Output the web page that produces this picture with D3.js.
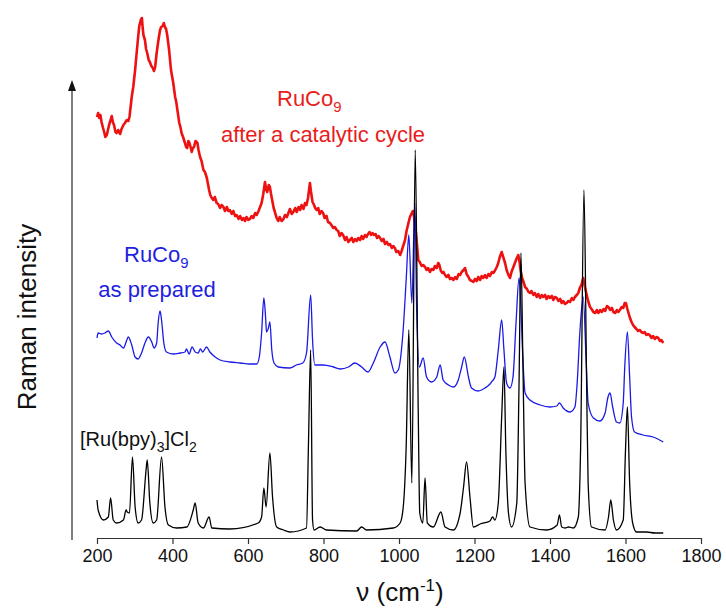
<!DOCTYPE html>
<html>
<head>
<meta charset="utf-8">
<script src="https://cdnjs.cloudflare.com/ajax/libs/d3/7.8.5/d3.min.js"></script>
<style>
  body { margin: 0; background: #fff; }
  svg { display: block; }
  text { font-family: "Liberation Sans", Arial, sans-serif; }
</style>
</head>
<body>
<div id="chart"></div>
<script>
// Raman shift (cm-1) and intensity (a.u.), one pair of arrays per spectrum
var bpyShift = [200,203,217,230,236,243,252,270,277,280,286,294,301,309,318,330,333,340,349,358,371,380,389,411,438,455,460,468,482,497,504,552,627,636,642,648,658,665,676,694,711,755,760,766,771,775,791,808,888,901,914,985,1003,1011,1019,1026,1034,1043,1051,1055,1063,1069,1075,1091,1111,1122,1144,1162,1171,1179,1188,1197,1215,1241,1248,1254,1263,1272,1278,1283,1290,1298,1312,1318,1323,1328,1334,1347,1391,1419,1425,1431,1440,1449,1462,1475,1481,1490,1497,1501,1510,1546,1555,1561,1568,1576,1594,1600,1605,1611,1619,1629,1656,1678,1700];
var bpyInt   = [38,28,18,21,40,18,15,18,28,26,25,81,31,15,18,68,78,35,15,18,81,31,13,10,11,28,35,15,10,21,10,9,15,21,50,31,85,41,11,8,6,10,91,188,18,8,11,8,7,11,8,10,15,30,91,208,55,388,125,25,15,60,15,11,26,11,8,25,51,76,41,11,14,17,21,18,35,121,171,88,25,11,35,155,285,181,55,11,8,13,23,11,10,11,10,21,88,348,155,55,11,8,21,38,18,8,18,88,131,55,15,6,6,5,5];

var prepShift = [200,203,212,221,230,239,252,261,270,279,283,292,301,309,318,327,336,345,351,358,362,367,371,377,384,402,420,433,437,444,452,460,468,474,480,490,499,513,526,552,579,605,623,630,636,642,647,649,654,658,663,669,680,711,728,745,755,766,771,777,799,826,844,866,883,901,918,932,950,963,976,989,998,1011,1019,1026,1034,1042,1047,1054,1064,1073,1086,1100,1109,1117,1131,1144,1157,1166,1173,1184,1192,1210,1228,1241,1245,1254,1263,1272,1278,1285,1294,1302,1310,1318,1322,1328,1334,1347,1374,1400,1418,1425,1435,1453,1466,1472,1479,1488,1496,1501,1515,1532,1546,1553,1559,1566,1576,1585,1594,1598,1605,1611,1616,1624,1646,1673,1700];
var prepInt   = [200,205,204,205,207,201,195,193,190,198,201,193,181,179,185,195,201,196,190,195,215,227,218,195,186,184,185,186,189,184,191,186,185,189,186,191,186,181,178,176,175,174,174,181,205,240,218,206,210,216,188,175,171,170,173,175,185,243,198,173,173,171,169,171,175,171,166,175,191,196,181,165,168,208,258,303,235,335,225,171,180,161,156,161,173,158,153,151,158,171,181,161,150,147,150,154,156,161,188,218,188,155,150,161,215,260,238,181,145,138,133,131,132,135,130,126,131,155,205,241,175,135,120,117,125,140,145,131,116,115,135,171,206,161,121,106,103,101,96];

var cycShift = [
  200,203,206,209,212,216,219,222,226,229,232,236,239,242,245,249,252,256,261,265,
  270,274,279,283,286,289,292,296,301,305,309,312,316,319,321,323,327,330,333,337,
  340,344,348,351,354,358,362,367,370,374,377,380,383,386,391,396,402,407,410,413,
  418,421,424,428,433,436,439,442,445,448,451,454,457,461,466,469,473,477,482,486,
  491,494,497,500,504,508,512,517,521,526,530,535,539,544,548,552,557,561,566,570,
  575,579,584,588,592,596,601,605,610,614,619,623,628,632,636,640,645,648,651,655,
  658,661,665,668,672,676,680,684,689,694,698,703,707,711,716,720,725,729,734,738,
  742,747,751,755,759,764,767,771,775,778,782,786,790,795,799,803,808,812,817,821,
  826,830,835,839,843,848,852,857,861,866,870,875,879,884,888,892,897,901,905,910,
  914,918,922,926,930,934,938,942,946,950,954,959,963,968,972,976,981,985,989,993,
  998,1003,1007,1011,1016,1020,1025,1029,1034,1037,1040,1045,1048,1051,1055,1060,1064,1069,1073,1077,
  1082,1086,1091,1095,1100,1104,1107,1111,1115,1118,1122,1126,1131,1135,1140,1144,1149,1153,1158,1162,
  1166,1171,1175,1179,1184,1188,1193,1197,1201,1206,1210,1215,1219,1223,1228,1232,1237,1241,1246,1250,
  1255,1259,1263,1267,1272,1276,1281,1285,1290,1294,1298,1303,1307,1311,1316,1319,1322,1326,1330,1334,
  1339,1343,1347,1351,1356,1360,1365,1369,1374,1378,1382,1387,1391,1396,1400,1405,1409,1413,1418,1422,
  1427,1431,1435,1440,1444,1449,1453,1458,1462,1466,1471,1475,1479,1484,1488,1492,1496,1501,1506,1510,
  1515,1520,1524,1528,1533,1537,1542,1546,1551,1555,1559,1564,1568,1573,1577,1581,1585,1590,1594,1598,
  1601,1605,1608,1611,1616,1620,1624,1629,1633,1638,1642,1647,1651,1655,1660,1664,1669,1673,1678,1682,
  1687,1691,1695,1700];
var cycInt = [
  421,425,420,423,416,410,406,401,403,408,413,418,422,416,413,406,405,408,404,409,
  413,415,418,417,421,431,441,451,468,485,501,512,518,520,510,503,498,489,485,478,
  476,472,470,467,471,485,496,508,511,512,515,511,509,503,488,468,455,441,436,428,
  415,411,405,401,395,391,390,397,395,391,386,390,391,397,395,388,381,377,368,366,
  360,354,348,343,340,338,341,335,334,330,333,331,327,331,327,328,324,327,322,323,
  319,322,318,320,317,321,318,319,322,320,325,323,327,331,335,343,356,349,346,353,
  351,344,336,330,325,320,317,321,317,319,323,321,325,329,324,326,330,326,331,328,
  333,329,335,333,340,355,346,336,333,330,328,330,324,327,325,320,322,316,315,313,
  310,311,308,307,302,305,303,298,301,296,298,300,296,299,297,300,298,302,299,303,
  301,304,306,303,305,303,304,300,302,300,297,299,294,296,293,294,290,292,290,286,
  287,283,287,292,298,307,315,321,325,327,321,305,292,278,276,272,273,271,268,270,
  266,269,268,272,270,275,273,267,265,266,263,261,263,259,260,258,261,259,264,263,
  266,268,270,264,261,258,257,256,259,257,261,258,262,260,263,260,264,262,266,265,
  268,271,275,281,286,281,275,268,263,260,266,271,275,279,283,277,268,260,256,251,
  249,246,245,247,243,245,241,244,240,243,241,243,239,242,240,242,238,241,240,237,
  239,235,237,234,235,237,236,240,238,241,243,245,250,254,260,252,245,237,231,229,
  226,225,228,225,228,226,229,227,232,231,228,230,226,225,228,226,228,231,230,235,
  235,229,225,221,216,213,211,209,207,208,206,205,206,203,204,203,200,202,199,201,
  200,197,198,195];

var xTicks = [200,400,600,800,1000,1200,1400,1600,1800];

var width = 726, height = 610;

var svg = d3.select('#chart').append('svg')
    .attr('width', width)
    .attr('height', height);

var x = d3.scaleLinear().domain([200, 1800]).range([97, 701]);
var y = d3.scaleLinear().domain([0, 460]).range([538, 78]);

// x axis
var xAxis = svg.append('g')
    .attr('transform', 'translate(0,' + y(0) + ')')
    .call(d3.axisBottom(x).tickValues(xTicks).tickFormat(d3.format('d'))
      .tickSize(6).tickSizeOuter(0).tickPadding(5));
xAxis.select('.domain').attr('stroke', '#333').attr('stroke-width', 1.2);
xAxis.selectAll('.tick line').attr('stroke', '#333').attr('stroke-width', 1.2);
xAxis.selectAll('.tick text')
    .attr('fill', '#111')
    .style('font-size', '18px')
    .style('font-family', '"Liberation Sans", Arial, sans-serif');

// y axis: plain line with an arrow head, no ticks
svg.append('line')
    .attr('x1', 72).attr('x2', 72)
    .attr('y1', y(0) + 2).attr('y2', y(450))
    .attr('stroke', '#555')
    .attr('stroke-width', 1.5);
svg.append('path')
    .attr('d', 'M72,' + (y(458)) + 'L68,' + (y(447)) + 'L76,' + (y(447)) + 'Z')
    .attr('fill', '#111');

function series(shift, inten) {
  return shift.map(function(d, i) { return [d, inten[i]]; });
}

var line = d3.line()
    .x(function(d) { return x(d[0]); })
    .y(function(d) { return y(d[1]); });

var smooth = d3.line()
    .curve(d3.curveMonotoneX)
    .x(function(d) { return x(d[0]); })
    .y(function(d) { return y(d[1]); });

svg.append('path')
    .datum(series(cycShift, cycInt))
    .attr('fill', 'none')
    .attr('stroke', '#ee1111')
    .attr('stroke-width', 2.6)
    .attr('stroke-linejoin', 'round')
    .attr('d', line);

svg.append('path')
    .datum(series(prepShift, prepInt))
    .attr('fill', 'none')
    .attr('stroke', '#1a1ae6')
    .attr('stroke-width', 1.3)
    .attr('d', smooth);

svg.append('path')
    .datum(series(bpyShift, bpyInt))
    .attr('fill', 'none')
    .attr('stroke', '#000')
    .attr('stroke-width', 1.3)
    .attr('d', smooth);

// axis titles
svg.append('text')
    .attr('transform', 'translate(36,317) rotate(-90)')
    .attr('text-anchor', 'middle')
    .style('font-size', '26px')
    .attr('fill', '#111')
    .text('Raman intensity');

var xt = svg.append('text')
    .attr('x', 400).attr('y', 601)
    .attr('text-anchor', 'middle')
    .style('font-size', '26px')
    .attr('fill', '#111');
xt.append('tspan').text('\u03bd (cm');
xt.append('tspan').attr('dy', -10).style('font-size', '17px').text('-1');
xt.append('tspan').attr('dy', 10).text(')');

// series labels
function label(px, py, main, sub, color, size) {
  var t = svg.append('text').attr('x', px).attr('y', py)
      .style('font-size', size + 'px').attr('fill', color);
  t.append('tspan').text(main);
  t.append('tspan').attr('dy', 6).style('font-size', Math.round(size * 0.68) + 'px').text(sub);
  return t;
}

label(277, 106, 'RuCo', '9', '#e81c1c', 22);
svg.append('text').attr('x', 323).attr('y', 142).attr('text-anchor', 'middle')
    .style('font-size', '22px').attr('fill', '#e81c1c').text('after a catalytic cycle');

label(124, 262, 'RuCo', '9', '#1f1fe0', 22);
svg.append('text').attr('x', 157).attr('y', 297).attr('text-anchor', 'middle')
    .style('font-size', '22px').attr('fill', '#1f1fe0').text('as prepared');

var bl = svg.append('text').attr('x', 80).attr('y', 446)
    .style('font-size', '20px').attr('fill', '#111');
bl.append('tspan').text('[Ru(bpy)');
bl.append('tspan').attr('dy', 6).style('font-size', '14px').text('3');
bl.append('tspan').attr('dy', -6).text(']Cl');
bl.append('tspan').attr('dy', 6).style('font-size', '14px').text('2');
</script>
</body>
</html>
